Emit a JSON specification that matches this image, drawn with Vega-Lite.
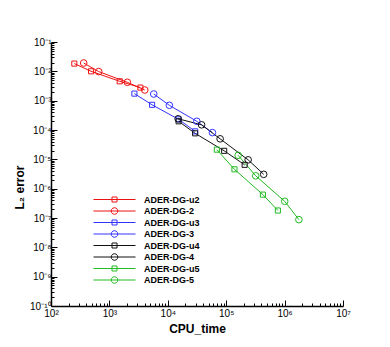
{
  "$schema": "https://vega.github.io/schema/vega-lite/v6.json",
  "autosize": "none",
  "width": 292,
  "height": 264,
  "padding": {"left": 51, "top": 42, "right": 47, "bottom": 41},
  "background": "white",
  "config": {"view": {"stroke": null}, "font": "Liberation Sans"},
  "data": {"values": [
    {"series": "ADER-DG-u2", "cpu": 251, "err": 0.01837},
    {"series": "ADER-DG-u2", "cpu": 485, "err": 0.01003},
    {"series": "ADER-DG-u2", "cpu": 1503, "err": 0.00457},
    {"series": "ADER-DG-u2", "cpu": 3390, "err": 0.00279},
    {"series": "ADER-DG-2", "cpu": 363, "err": 0.01923},
    {"series": "ADER-DG-2", "cpu": 656, "err": 0.0098},
    {"series": "ADER-DG-2", "cpu": 2031, "err": 0.00423},
    {"series": "ADER-DG-2", "cpu": 4035, "err": 0.00231},
    {"series": "ADER-DG-u3", "cpu": 2680, "err": 0.00174},
    {"series": "ADER-DG-u3", "cpu": 5380, "err": 0.000723},
    {"series": "ADER-DG-u3", "cpu": 15310, "err": 0.000231},
    {"series": "ADER-DG-u3", "cpu": 29380, "err": 0.00009},
    {"series": "ADER-DG-3", "cpu": 5750, "err": 0.001686},
    {"series": "ADER-DG-3", "cpu": 10640, "err": 0.000695},
    {"series": "ADER-DG-3", "cpu": 31400, "err": 0.000198},
    {"series": "ADER-DG-3", "cpu": 58100, "err": 0.0000815},
    {"series": "ADER-DG-u4", "cpu": 15310, "err": 0.000198},
    {"series": "ADER-DG-u4", "cpu": 29380, "err": 0.000077},
    {"series": "ADER-DG-u4", "cpu": 92300, "err": 0.0000195},
    {"series": "ADER-DG-u4", "cpu": 207000, "err": 0.0000065},
    {"series": "ADER-DG-4", "cpu": 15030, "err": 0.000241},
    {"series": "ADER-DG-4", "cpu": 37900, "err": 0.00015},
    {"series": "ADER-DG-4", "cpu": 78700, "err": 0.00005},
    {"series": "ADER-DG-4", "cpu": 237700, "err": 0.0000096},
    {"series": "ADER-DG-4", "cpu": 438500, "err": 0.00000308},
    {"series": "ADER-DG-u5", "cpu": 69200, "err": 0.0000214},
    {"series": "ADER-DG-u5", "cpu": 138400, "err": 0.00000457},
    {"series": "ADER-DG-u5", "cpu": 424800, "err": 0.000000627},
    {"series": "ADER-DG-u5", "cpu": 767000, "err": 0.00000018},
    {"series": "ADER-DG-5", "cpu": 160300, "err": 0.0000137},
    {"series": "ADER-DG-5", "cpu": 320000, "err": 0.00000274},
    {"series": "ADER-DG-5", "cpu": 1004000, "err": 0.000000371},
    {"series": "ADER-DG-5", "cpu": 1758000, "err": 0.000000088}
  ]},
  "encoding": {
    "x": {
      "field": "cpu", "type": "quantitative",
      "scale": {"type": "log", "domain": [100, 10000000], "nice": false},
      "axis": {
        "title": "CPU_time",
        "titleFont": "Liberation Sans", "titleFontSize": 12, "titleFontWeight": "bold", "titleColor": "black",
        "titleY": 22, "titleBaseline": "middle",
        "grid": false,
        "domainColor": "black", "domainWidth": 1.5,
        "tickColor": "black", "tickWidth": 1,
        "tickSize": {"condition": {"test": "abs(log(datum.value)/LN10 - round(log(datum.value)/LN10)) < 0.001", "value": -6}, "value": -3},
        "labelFont": "Liberation Sans", "labelFontSize": 10, "labelColor": "black",
        "labelPadding": 8, "labelFlush": false, "labelOverlap": false,
        "values": [100,200,300,400,500,600,700,800,900,1000,2000,3000,4000,5000,6000,7000,8000,9000,10000,20000,30000,40000,50000,60000,70000,80000,90000,100000,200000,300000,400000,500000,600000,700000,800000,900000,1000000,2000000,3000000,4000000,5000000,6000000,7000000,8000000,9000000,10000000],
        "labelExpr": "abs(log(datum.value)/LN10 - round(log(datum.value)/LN10)) < 0.001 ? '10' + substring('⁰¹²³⁴⁵⁶⁷⁸⁹', round(log(datum.value)/LN10), round(log(datum.value)/LN10)+1) : ''"
      }
    },
    "y": {
      "field": "err", "type": "quantitative",
      "scale": {"type": "log", "domain": [1e-10, 0.1], "nice": false},
      "axis": {
        "title": "L₂ error",
        "titleFont": "Liberation Sans", "titleFontSize": 12, "titleFontWeight": "bold", "titleColor": "black",
        "titleAngle": -90, "titleX": -32, "titleY": 145, "titleAlign": "center", "titleBaseline": "middle",
        "grid": false,
        "domainColor": "black", "domainWidth": 1.5,
        "tickColor": "black", "tickWidth": 1,
        "tickSize": {"condition": {"test": "abs(log(datum.value)/LN10 - round(log(datum.value)/LN10)) < 0.001", "value": -6}, "value": -3},
        "labelFont": "Liberation Sans", "labelFontSize": 10, "labelColor": "black",
        "labelPadding": 6, "labelFlush": false, "labelOverlap": false,
        "values": [1e-10,2e-10,3e-10,4e-10,5e-10,6e-10,7e-10,8e-10,9e-10,1e-9,2e-9,3e-9,4e-9,5e-9,6e-9,7e-9,8e-9,9e-9,1e-8,2e-8,3e-8,4e-8,5e-8,6e-8,7e-8,8e-8,9e-8,1e-7,2e-7,3e-7,4e-7,5e-7,6e-7,7e-7,8e-7,9e-7,1e-6,2e-6,3e-6,4e-6,5e-6,6e-6,7e-6,8e-6,9e-6,1e-5,2e-5,3e-5,4e-5,5e-5,6e-5,7e-5,8e-5,9e-5,1e-4,2e-4,3e-4,4e-4,5e-4,6e-4,7e-4,8e-4,9e-4,1e-3,2e-3,3e-3,4e-3,5e-3,6e-3,7e-3,8e-3,9e-3,1e-2,2e-2,3e-2,4e-2,5e-2,6e-2,7e-2,8e-2,9e-2,1e-1],
        "labelExpr": "abs(log(datum.value)/LN10 - round(log(datum.value)/LN10)) < 0.001 ? '10⁻' + (abs(round(log(datum.value)/LN10)) == 10 ? '¹⁰' : substring('⁰¹²³⁴⁵⁶⁷⁸⁹', abs(round(log(datum.value)/LN10)), abs(round(log(datum.value)/LN10))+1)) : ''"
      }
    },
    "color": {
      "field": "series", "type": "nominal",
      "scale": {
        "domain": ["ADER-DG-u2","ADER-DG-2","ADER-DG-u3","ADER-DG-3","ADER-DG-u4","ADER-DG-4","ADER-DG-u5","ADER-DG-5"],
        "range": ["#ee1111","#ee1111","#3333ff","#3333ff","#111111","#111111","#22bb22","#22bb22"]
      },
      "legend": {
        "title": null,
        "orient": "none", "legendX": 58, "legendY": 152,
        "padding": 0, "rowPadding": 0.5,
        "labelFont": "Liberation Sans", "labelFontSize": 9, "labelFontWeight": "bold", "labelColor": "black",
        "labelOffset": 24,
        "symbolSize": 100, "symbolStrokeWidth": 1,
        "encode": {
          "symbols": {"update": {
            "fill": {"value": "transparent"},
            "stroke": {"scale": "color", "field": "value"},
            "opacity": {"value": 1},
            "shape": {"signal": "indexof(datum.value, '-u') >= 0 ? 'M-4.2,0H4.2M-0.5,-0.5H0.5V0.5H-0.5Z' : 'M-4.2,0H4.2M0.66,0L0.57,0.33L0.33,0.57L0,0.66L-0.33,0.57L-0.57,0.33L-0.66,0L-0.57,-0.33L-0.33,-0.57L0,-0.66L0.33,-0.57L0.57,-0.33Z'"}
          }}
        }
      }
    }
  },
  "layer": [
    {"mark": {"type": "line", "strokeWidth": 1}},
    {
      "mark": {"type": "point", "filled": false, "strokeWidth": 1, "opacity": 1},
      "encoding": {
        "shape": {"condition": {"test": "indexof(datum.series, '-u') >= 0", "value": "square"}, "value": "circle"},
        "size": {"condition": {"test": "indexof(datum.series, '-u') >= 0", "value": 26}, "value": 44}
      }
    }
  ]
}
